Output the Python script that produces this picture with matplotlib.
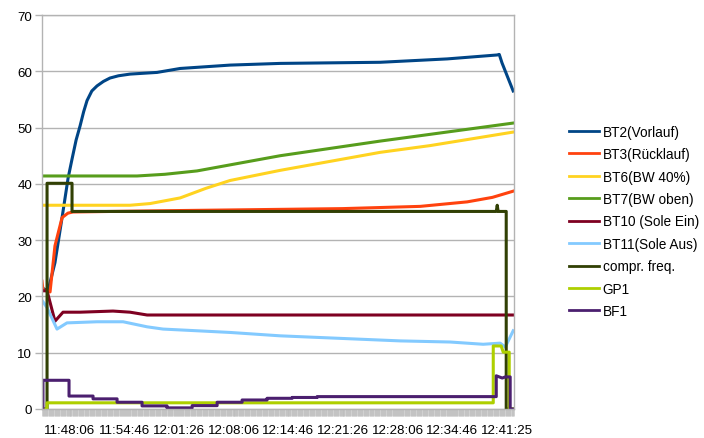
import matplotlib
matplotlib.use('Agg')
import matplotlib.pyplot as plt
from matplotlib.ticker import MultipleLocator, FixedLocator

plt.rcParams['font.family'] = ['Liberation Sans', 'DejaVu Sans']

# time axis: seconds since 11:44:41
START = '11:44:41'
tick_labels = ['11:48:06', '11:54:46', '12:01:26', '12:08:06', '12:14:46',
               '12:21:26', '12:28:06', '12:34:46', '12:41:25']
T_END = 3458

# series (seconds, value)
t_bt2 = [0, 44, 95, 147, 191, 220, 250, 279, 305, 330, 365, 403, 450, 498, 560, 645, 843,
         1012, 1378, 1745, 2478, 2969, 3335, 3350, 3370, 3452]
v_bt2 = [21.5, 21, 26, 34, 41, 44.4, 47.8, 50.3, 52.8, 54.8, 56.5, 57.4, 58.2, 58.8, 59.2,
         59.5, 59.8, 60.5, 61.1, 61.4, 61.6, 62.2, 62.9, 63.0, 61.5, 56.5]

t_bt3 = [0, 7, 59, 95, 147, 190, 227, 800, 1500, 2200, 2771, 3115, 3300, 3452]
v_bt3 = [22.7, 21.2, 20.8, 29, 34, 34.8, 35, 35.2, 35.4, 35.6, 36, 36.8, 37.6, 38.7]

t_bt6 = [0, 645, 792, 1012, 1200, 1378, 1745, 2478, 2844, 3452]
v_bt6 = [36.2, 36.2, 36.5, 37.5, 39.2, 40.6, 42.4, 45.6, 46.8, 49.2]

t_bt7 = [0, 696, 900, 1136, 1745, 2478, 2844, 3452]
v_bt7 = [41.4, 41.4, 41.7, 42.3, 45, 47.6, 48.8, 50.8]

t_bt10 = [0, 37, 95, 154, 279, 520, 645, 770, 3452]
v_bt10 = [21, 21, 15.6, 17.2, 17.2, 17.4, 17.2, 16.7, 16.7]

t_bt11 = [0, 37, 110, 183, 403, 594, 770, 887, 1136, 1378, 1745, 2624, 2991, 3232, 3357, 3394, 3452]
v_bt11 = [19.3, 18, 14.2, 15.3, 15.5, 15.5, 14.6, 14.2, 13.9, 13.6, 13.0, 12.1, 11.9, 11.5, 11.7, 11.0, 13.9]

t_comp = [0, 37, 37, 220, 220, 3328, 3335, 3342, 3401, 3401, 3452]
v_comp = [0, 0, 40.1, 40.1, 35.1, 35.1, 36.2, 35.1, 35.1, 0, 0]

t_gp1 = [0, 37, 37, 3306, 3306, 3364, 3379, 3423, 3423, 3452]
v_gp1 = [0, 0, 1.1, 1.1, 11.2, 11.2, 10.1, 10.1, 0, 0]

t_bf1 = [0, 7, 7, 198, 198, 374, 374, 550, 550, 733, 733, 916, 916, 1100, 1100,
         1283, 1283, 1466, 1466, 1649, 1649, 1833, 1833, 2016, 2016, 3328, 3328,
         3372, 3394, 3430, 3430, 3452]
v_bf1 = [0, 0, 5.1, 5.1, 2.3, 2.3, 1.8, 1.8, 1.2, 1.2, 0.55, 0.55, 0.2, 0.2, 0.6,
         0.6, 1.2, 1.2, 1.6, 1.6, 1.9, 1.9, 2.05, 2.05, 2.2, 2.2, 5.9,
         5.5, 5.7, 5.7, 0, 0]

series = [
    ('BT2(Vorlauf)', t_bt2, v_bt2, '#004586'),
    ('BT3(Rücklauf)', t_bt3, v_bt3, '#ff420e'),
    ('BT6(BW 40%)', t_bt6, v_bt6, '#ffd320'),
    ('BT7(BW oben)', t_bt7, v_bt7, '#579d1c'),
    ('BT10 (Sole Ein)', t_bt10, v_bt10, '#7e0021'),
    ('BT11(Sole Aus)', t_bt11, v_bt11, '#83caff'),
    ('compr. freq.', t_comp, v_comp, '#314004'),
    ('GP1', t_gp1, v_gp1, '#aecf00'),
    ('BF1', t_bf1, v_bf1, '#4b1f6f'),
]


def to_sec(s):
    h, m, sec = (int(p) for p in s.split(':'))
    return h * 3600 + m * 60 + sec


tick_pos = [to_sec(s) - to_sec(START) for s in tick_labels]

fig = plt.figure(figsize=(7.04, 4.39), dpi=100)
ax = fig.add_axes([42 / 704, 1 - 410 / 439, 472 / 704, 394 / 439])

grey = '#b3b3b3'
for name, t, v, c in series:
    ax.plot(t, v, color=c, lw=2.2, label=name, solid_joinstyle='round')

ax.set_xlim(0, T_END)
ax.set_ylim(0, 70)
ax.set_yticks(range(0, 71, 10))
ax.yaxis.grid(True, color=grey, lw=1)
ax.set_axisbelow(True)

# dense category ticks make the grey band under the axis
ax.xaxis.set_major_locator(FixedLocator(tick_pos))
ax.set_xticklabels(tick_labels)
ax.xaxis.set_minor_locator(MultipleLocator(4))
ax.tick_params(axis='x', which='both', length=5, color='#bdbdbd', width=0.5, direction='out')
ax.tick_params(axis='x', which='major', pad=6, labelsize=9.6)
ax.tick_params(axis='y', length=5, color=grey, width=1, pad=2, labelsize=9.6)

for sp in ax.spines.values():
    sp.set_color(grey)
    sp.set_linewidth(1)

leg = fig.legend(loc='center left', bbox_to_anchor=(562 / 704, 1 - 222.5 / 439),
                 frameon=False, fontsize=9.8, handlelength=2.2, handletextpad=0.3,
                 labelspacing=0.62, borderpad=0)
for line in leg.get_lines():
    line.set_linewidth(2)

fig.savefig('out.png', dpi=100)
